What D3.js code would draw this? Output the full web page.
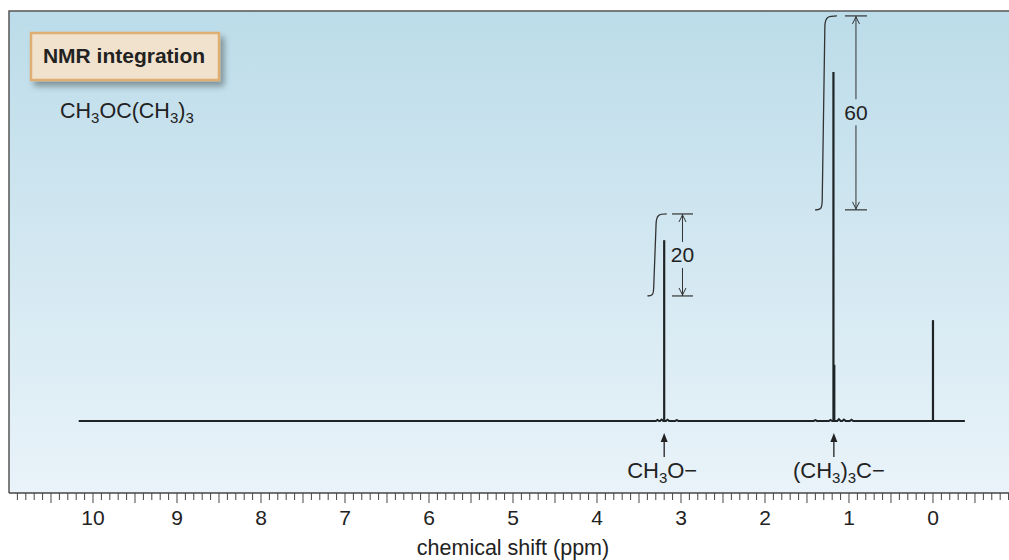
<!DOCTYPE html>
<html><head><meta charset="utf-8">
<script src="https://cdn.jsdelivr.net/npm/d3@7"></script>
<style>html,body{margin:0;padding:0;background:#fff;}svg{display:block;font-family:"Liberation Sans",Arial,sans-serif;}</style>
</head><body>
<svg id="c" width="1009" height="560"></svg>
<script>
// ---- data ----
const axisDomain = [11.0, -0.905];          // ppm, left to right
const majorTicks = [10, 9, 8, 7, 6, 5, 4, 3, 2, 1, 0];
const tickLabels = ["10", "9", "8", "7", "6", "5", "4", "3", "2", "1", "0"];
const baselineRange = [10.17, -0.38];
// main peaks: ppm, relative intensity (0-100)
const peakPpm    = [3.20, 1.185, 1.175, 0.0];
const peakHeight = [44.1, 85.1, 13.7, 24.6];
// tiny baseline wiggles near the signals
const bumpPpm    = [3.28, 3.23, 3.16, 3.05, 1.40, 1.22, 1.12, 1.06, 0.97];
const bumpHeight = [0.25, 0.35, 0.3, 0.2, 0.2, 0.25, 0.45, 0.35, 0.3];
// integration steps
const intLabels = ["20", "60"];
const intStartPpm = [3.40, 1.405];
const intEndPpm   = [3.17, 1.143];
const intBottom   = [30.5, 51.5];
const intTop      = [50.5, 98.8];
const intBarLeft  = [3.107, 1.048];
const intBarRight = [2.857, 0.786];
const intLabelY   = [40.5, 75.3];
// peak assignments
const assignPpm = [3.2, 1.18];
const assignMain = ["CH", "(CH"];
const assignSub1 = ["3", "3"];
const assignRest = ["O\u2212", ")"];
const assignSub2 = ["", "3"];
const assignTail = ["", "C\u2212"];

(function () {
const svg = d3.select("#c");
const pL = 9, pR = 1009, pT = 11, pB = 493;
const x = d3.scaleLinear().domain(axisDomain).range([pL, pR]);
const y = d3.scaleLinear().domain([0, 100]).range([421, 11]);

const defs = svg.append("defs");
const grad = defs.append("linearGradient").attr("id", "bg").attr("x1", 0).attr("y1", 0).attr("x2", 0).attr("y2", 1);
grad.append("stop").attr("offset", "0%").attr("stop-color", "#bcdce9");
grad.append("stop").attr("offset", "100%").attr("stop-color", "#e9f3f9");
const f = defs.append("filter").attr("id", "sh").attr("x", "-20%").attr("y", "-30%").attr("width", "150%").attr("height", "180%");
f.append("feGaussianBlur").attr("in", "SourceAlpha").attr("stdDeviation", 3).attr("result", "b");
f.append("feOffset").attr("in", "b").attr("dx", 4).attr("dy", 5).attr("result", "o");
f.append("feComponentTransfer").attr("in", "o").attr("result", "o2").append("feFuncA").attr("type", "linear").attr("slope", 0.35);
const fm = f.append("feMerge");
fm.append("feMergeNode").attr("in", "o2");
fm.append("feMergeNode").attr("in", "SourceGraphic");

svg.append("rect").attr("x", pL).attr("y", pT).attr("width", pR - pL).attr("height", pB - pT).attr("fill", "url(#bg)");
svg.append("path").attr("d", `M${pL},${pB}V${pT}H${pR}`).attr("fill", "none").attr("stroke", "#555").attr("stroke-width", 1.5);

// axis
const minorT = d3.range(109, -10, -1).map(v => v / 10);
const axisG = svg.append("g").attr("transform", `translate(0,${pB})`);
axisG.append("line").attr("x1", pL).attr("x2", pR).attr("stroke", "#444").attr("stroke-width", 1.5);
axisG.selectAll("line.t").data(minorT).join("line").attr("class", "t")
  .attr("x1", d => x(d)).attr("x2", d => x(d)).attr("y1", 0)
  .attr("y2", d => (Math.abs(d * 2 - Math.round(d * 2)) < 1e-6) ? 10 : 7)
  .attr("stroke", "#444").attr("stroke-width", 1);
axisG.selectAll("text").data(majorTicks).join("text")
  .attr("x", d => x(d)).attr("y", 32).attr("text-anchor", "middle")
  .attr("font-size", 21).attr("fill", "#222").text((d, i) => tickLabels[i]);
svg.append("text").attr("x", 513).attr("y", 555).attr("text-anchor", "middle").attr("font-size", 21.5).attr("fill", "#222").text("chemical shift (ppm)");

// spectrum baseline with small wiggles
let pts = [[baselineRange[0], 0]];
bumpPpm.forEach((p, i) => { pts.push([p + 0.02, 0]); pts.push([p, bumpHeight[i]]); pts.push([p - 0.02, 0]); });
pts.push([baselineRange[1], 0]);
pts.sort((a, b) => b[0] - a[0]);
svg.append("path").attr("d", d3.line().x(d => x(d[0])).y(d => y(d[1]))(pts))
  .attr("fill", "none").attr("stroke", "#1e2326").attr("stroke-width", 2);
// peaks
svg.selectAll("line.pk").data(peakPpm).join("line").attr("class", "pk")
  .attr("x1", d => x(d)).attr("x2", d => x(d)).attr("y1", y(0) + 1)
  .attr("y2", (d, i) => y(peakHeight[i]))
  .attr("stroke", "#1e2326").attr("stroke-width", 2.2);

// integration
intLabels.forEach((lab, i) => {
  const x0 = x(intStartPpm[i]), x1 = x(intEndPpm[i]), yb = y(intBottom[i]), yt = y(intTop[i]);
  const w = x1 - x0;
  const d = `M${x0},${yb} C${x0 + w * 0.3},${yb} ${x0 + w * 0.32},${yb - 2} ${x0 + w * 0.33},${yb - 10}` +
            ` L${x0 + w * 0.45},${yt + 10} C${x0 + w * 0.47},${yt + 1} ${x0 + w * 0.6},${yt} ${x1},${yt}`;
  svg.append("path").attr("d", d).attr("fill", "none").attr("stroke", "#333").attr("stroke-width", 1.3);
  const bl = x(intBarLeft[i]), br = x(intBarRight[i]), xm = (bl + br) / 2, ym = y(intLabelY[i]);
  svg.append("line").attr("x1", bl).attr("x2", br).attr("y1", yt).attr("y2", yt).attr("stroke", "#333").attr("stroke-width", 1.2);
  svg.append("line").attr("x1", bl).attr("x2", br).attr("y1", yb).attr("y2", yb).attr("stroke", "#333").attr("stroke-width", 1.2);
  svg.append("line").attr("x1", xm).attr("x2", xm).attr("y1", yt).attr("y2", ym - 13).attr("stroke", "#333").attr("stroke-width", 1);
  svg.append("line").attr("x1", xm).attr("x2", xm).attr("y1", ym + 13).attr("y2", yb).attr("stroke", "#333").attr("stroke-width", 1);
  svg.append("path").attr("d", `M${xm - 3.5},${yt + 8} L${xm},${yt + 1} L${xm + 3.5},${yt + 8}`).attr("fill", "none").attr("stroke", "#333").attr("stroke-width", 1);
  svg.append("path").attr("d", `M${xm - 3.5},${yb - 8} L${xm},${yb - 1} L${xm + 3.5},${yb - 8}`).attr("fill", "none").attr("stroke", "#333").attr("stroke-width", 1);
  svg.append("text").attr("x", xm).attr("y", ym + 7.5).attr("text-anchor", "middle").attr("font-size", 21).attr("fill", "#222").text(lab);
});

// assignments
assignPpm.forEach((p, i) => {
  const xa = x(p);
  svg.append("line").attr("x1", xa).attr("x2", xa).attr("y1", 457).attr("y2", 436).attr("stroke", "#222").attr("stroke-width", 1.3);
  svg.append("path").attr("d", `M${xa - 3.5},${442} L${xa},${433} L${xa + 3.5},${442}Z`).attr("fill", "#222");
  const t = svg.append("text").attr("x", xa + (i === 0 ? -2 : 5)).attr("y", 478).attr("text-anchor", "middle").attr("font-size", 22).attr("fill", "#222");
  t.append("tspan").text(assignMain[i]);
  t.append("tspan").attr("font-size", 15).attr("dy", 5).text(assignSub1[i]);
  t.append("tspan").attr("dy", -5).text(assignRest[i]);
  if (assignSub2[i]) {
    t.append("tspan").attr("font-size", 15).attr("dy", 5).text(assignSub2[i]);
    t.append("tspan").attr("dy", -5).text(assignTail[i]);
  }
});

// title box
svg.append("rect").attr("x", 31).attr("y", 33).attr("width", 188).attr("height", 47)
  .attr("fill", "#f1e2cd").attr("stroke", "#dfae73").attr("stroke-width", 2.5).attr("filter", "url(#sh)");
svg.append("text").attr("x", 124).attr("y", 63).attr("text-anchor", "middle").attr("font-size", 21).attr("font-weight", "bold").attr("fill", "#222").text("NMR integration");
const ft = svg.append("text").attr("x", 60).attr("y", 118).attr("font-size", 21.5).attr("fill", "#222");
ft.append("tspan").text("CH");
ft.append("tspan").attr("font-size", 15).attr("dy", 5).text("3");
ft.append("tspan").attr("dy", -5).text("OC(CH");
ft.append("tspan").attr("font-size", 15).attr("dy", 5).text("3");
ft.append("tspan").attr("dy", -5).text(")");
ft.append("tspan").attr("font-size", 15).attr("dy", 5).text("3");
})();
</script>
</body></html>
